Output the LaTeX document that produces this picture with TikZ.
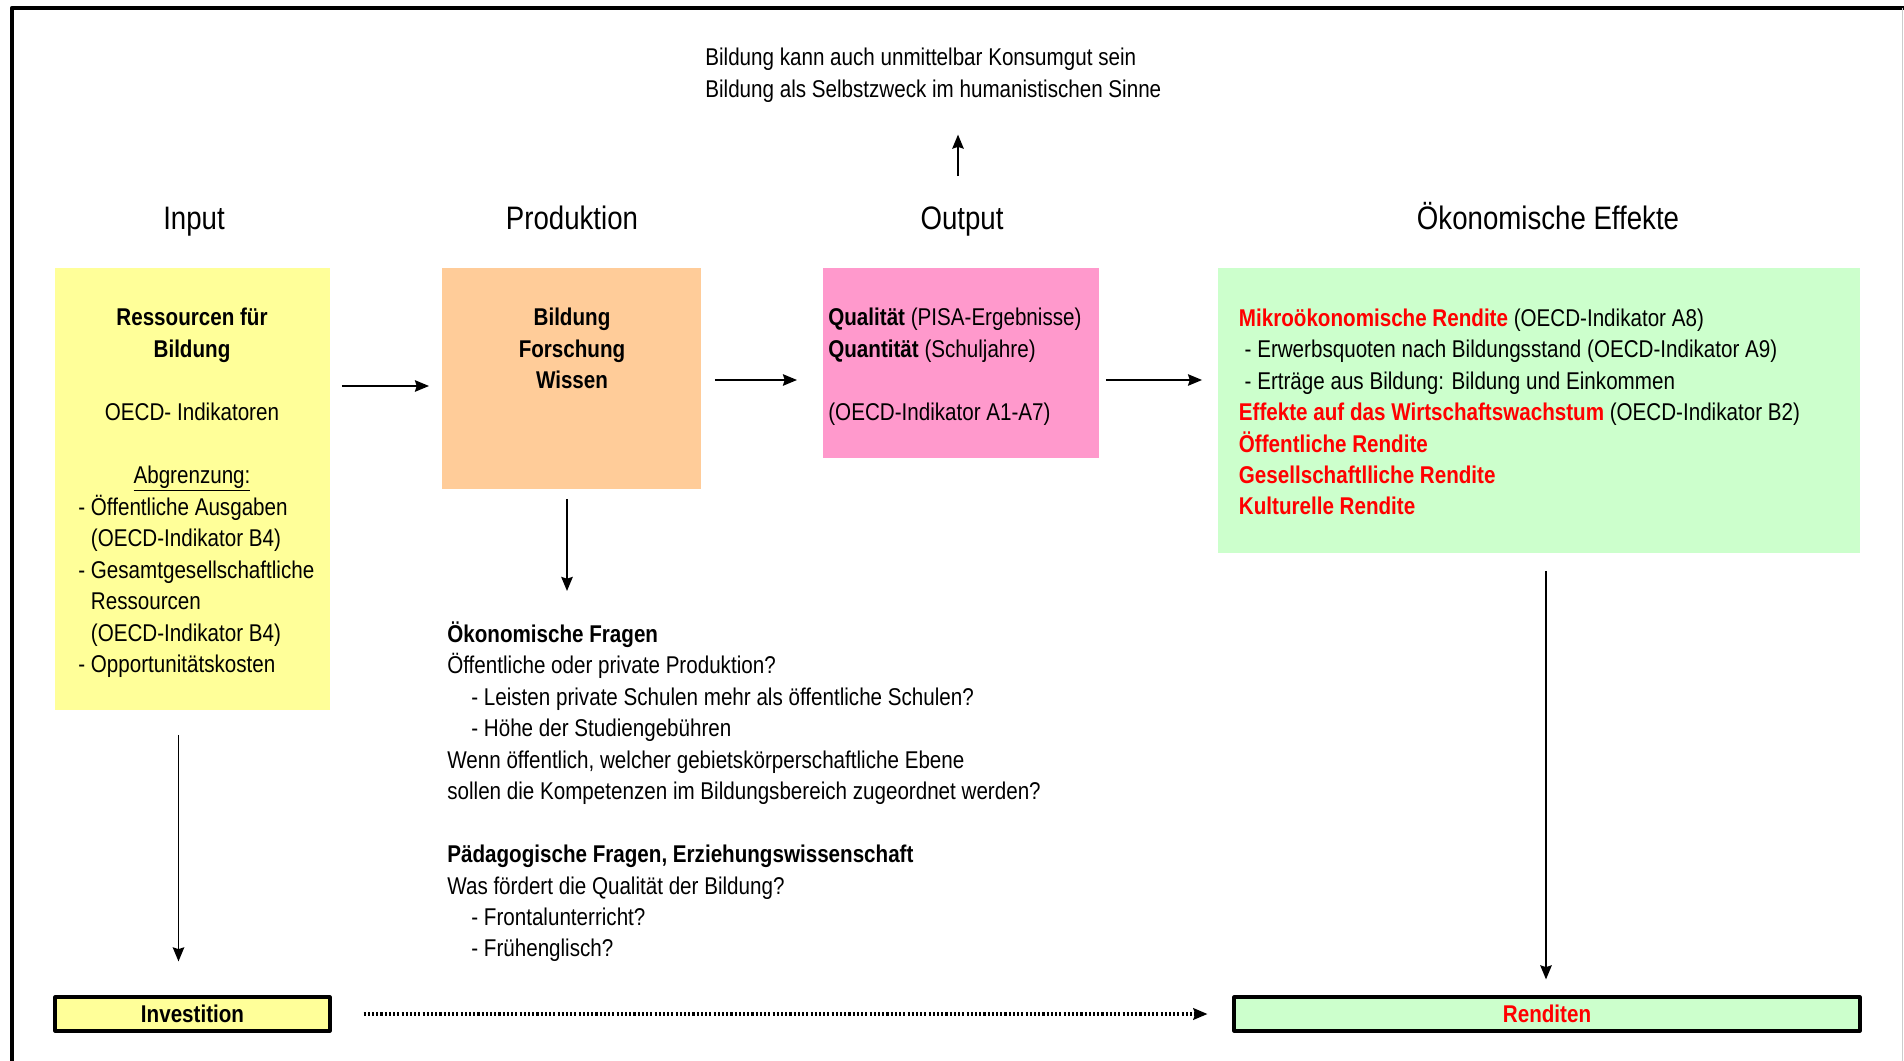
\documentclass[tikz,border=0pt]{standalone}
\usepackage{fontspec}
\setmainfont{Liberation Sans}[FakeStretch=0.85]
\usetikzlibrary{positioning,arrows.meta}
\definecolor{inputgelb}{HTML}{FFFF99}
\definecolor{prodorange}{HTML}{FFCC99}
\definecolor{outrosa}{HTML}{FF99CC}
\definecolor{effektgruen}{HTML}{CCFFCC}
\definecolor{renditerot}{HTML}{FF0000}
\newcommand{\rotfett}[1]{\textcolor{renditerot}{\textbf{#1}}}
\newcommand{\einr}{\hspace*{0.48cm}}
\def\zeile{0.632cm}
\begin{document}
\begin{tikzpicture}[x=0.02cm,y=-0.02cm,line join=round,>={Stealth[length=8pt,width=6.5pt,inset=1pt]}]
    \tikzset{txt/.style={font=\fontsize{13.8}{17.9}\selectfont,inner sep=0pt},
             kopf/.style={font=\fontsize{18.5}{22}\selectfont,inner sep=0pt,anchor=base},
             feld/.style={inner sep=0pt,outer sep=0pt},
             pfeil/.style={->,line width=1.1pt},
             endbox/.style={draw,line width=1.8pt,inner sep=0pt,minimum height=0.68cm,font=\fontsize{13.8}{17.9}\selectfont\bfseries}}
    \useasboundingbox (0,0) rectangle (1904,1061);
    %% Rahmen
    \draw[line width=2.6pt] (12,1061)--(12,8)--(1904,8);
    \draw[gray!40] (1902,8)--(1902,1061);
    %% Kopfzeilen (base = letzte Zeile)
    \node[kopf] (kopfinput) at (194,229.5) {Input};
    \node[kopf] (kopfprod) at (572,229.5) {Produktion};
    \node[kopf] (kopfoutput) at (962,229.5) {Output};
    \node[kopf] (kopfeffekte) at (1548,229.5) {Ökonomische Effekte};
    \node[txt,anchor=base west,align=left] (konsum) at (705,97.2) {Bildung kann auch unmittelbar Konsumgut sein\\Bildung als Selbstzweck im humanistischen Sinne};
    %% Kaesten
    \node[feld,fill=inputgelb,minimum width=5.5cm,minimum height=8.84cm] (ressourcen) at (192.5,489) {};
    \node[feld,fill=prodorange,minimum width=5.18cm,minimum height=4.42cm] (bildung) at (571.5,378.5) {};
    \node[feld,fill=outrosa,minimum width=5.52cm,minimum height=3.8cm] (output) at (961,363) {};
    \node[feld,fill=effektgruen,minimum width=12.84cm,minimum height=5.7cm] (effekte) at (1539,410.5) {};
    \node[endbox,fill=inputgelb,minimum width=5.5cm] (investition) at (192.5,1014) {Investition};
    \node[endbox,fill=effektgruen,minimum width=12.52cm,text=renditerot] (renditen) at (1547,1014) {Renditen};
    %% Texte in den Kaesten
    \node[txt,anchor=base,align=center] (ressourcentext) at (192,483.3) {\textbf{Ressourcen für}\\\textbf{Bildung}\\[\zeile]OECD- Indikatoren\\[\zeile]\underline{Abgrenzung:}};
    \node[txt,anchor=base west,align=left] (abgrenzung) at (78,672.7) {- Öffentliche Ausgaben\\\hphantom{-\ }(OECD-Indikator B4)\\- Gesamtgesellschaftliche\\\hphantom{-\ }Ressourcen\\\hphantom{-\ }(OECD-Indikator B4)\\- Opportunitätskosten};
    \node[txt,anchor=base,align=center,font=\fontsize{13.8}{17.9}\selectfont\bfseries] (bildungtext) at (572,388.6) {Bildung\\Forschung\\Wissen};
    \node[txt,anchor=base west,align=left] (outtext) at (828,420.1) {\textbf{Qualität} (PISA-Ergebnisse)\\\textbf{Quantität} (Schuljahre)\\[\zeile](OECD-Indikator A1-A7)};
    \node[txt,anchor=base west,align=left] (effektetext) at (1238.6,514.9) {\rotfett{Mikroökonomische Rendite} (OECD-Indikator A8)\\\ - Erwerbsquoten nach Bildungsstand (OECD-Indikator A9)\\\ - Erträge aus Bildung: Bildung und Einkommen\\\rotfett{Effekte auf das Wirtschaftswachstum} (OECD-Indikator B2)\\\rotfett{Öffentliche Rendite}\\\rotfett{Gesellschaftlliche Rendite}\\\rotfett{Kulturelle Rendite}};
    \node[txt,anchor=base west,align=left] (fragen) at (447,956.9) {\textbf{Ökonomische Fragen}\\Öffentliche oder private Produktion?\\\einr- Leisten private Schulen mehr als öffentliche Schulen?\\\einr- Höhe der Studiengebühren\\Wenn öffentlich, welcher gebietskörperschaftliche Ebene\\sollen die Kompetenzen im Bildungsbereich zugeordnet werden?\\[\zeile]\textbf{Pädagogische Fragen, Erziehungswissenschaft}\\Was fördert die Qualität der Bildung?\\\einr- Frontalunterricht?\\\einr- Frühenglisch?};
    %% Pfeile
    \coordinate (hoch) at (958,176);
    \coordinate (fragenoben) at (567,591);
    \draw[pfeil,shorten >=0.64cm] (hoch)--(konsum.south -| hoch);
    \draw[pfeil,shorten <=0.24cm,shorten >=0.26cm] (ressourcen.east |- 0,386)--(bildung.west |- 0,386);
    \draw[pfeil,shorten <=0.28cm,shorten >=0.52cm] (bildung.east |- 0,380)--(output.west |- 0,380);
    \draw[pfeil,shorten <=0.14cm,shorten >=0.32cm] (output.east |- 0,380)--(effekte.west |- 0,380);
    \draw[pfeil,shorten <=0.2cm] (bildung.south -| fragenoben)--(fragenoben);
    \draw[pfeil,shorten <=0.5cm,shorten >=0.68cm] (ressourcen.south -| 178.5,0)--(investition.north -| 178.5,0);
    \draw[pfeil,shorten <=0.36cm,shorten >=0.32cm] (effekte.south -| 1546,0)--(renditen.north -| 1546,0);
    \draw[->,line width=2pt,dash pattern=on 1.2pt off 1.2pt,shorten <=0.64cm,shorten >=0.5cm] (investition.east)--(renditen.west);
\end{tikzpicture}
\end{document}
